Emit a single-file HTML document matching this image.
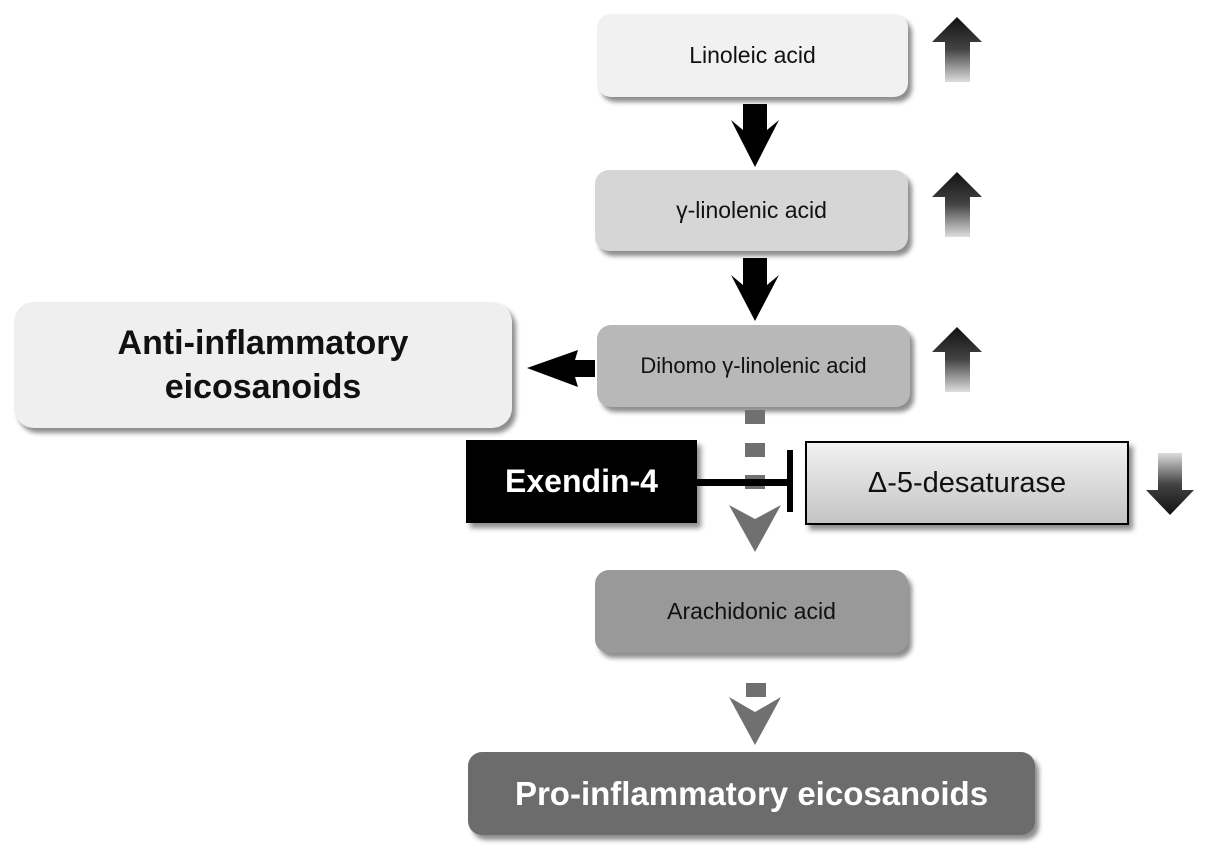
<!DOCTYPE html>
<html><head><meta charset="utf-8"><style>
body{margin:0;width:1205px;height:853px;background:#fff;position:relative;overflow:hidden;font-family:"Liberation Sans",sans-serif}
.b{position:absolute;display:flex;align-items:center;justify-content:center;text-align:center;border-radius:14px;box-shadow:4px 5px 5px rgba(0,0,0,.45);color:#111}
svg{position:absolute;left:0;top:0}
</style></head><body>
<div class="b" style="left:597px;top:14px;width:311px;height:83px;background:#f1f1f1;font-size:23px">Linoleic acid</div>
<div class="b" style="left:595px;top:170px;width:313px;height:81px;background:#d6d6d6;font-size:23px">γ-linolenic acid</div>
<div class="b" style="left:597px;top:325px;width:313px;height:82px;background:#b8b8b8;font-size:22px">Dihomo γ-linolenic acid</div>
<div class="b" style="left:14px;top:302px;width:498px;height:126px;background:#efefef;font-size:34px;font-weight:bold;line-height:44px;border-radius:20px">Anti-inflammatory<br>eicosanoids</div>
<div class="b" style="left:466px;top:440px;width:231px;height:83px;background:#000;color:#fff;font-size:32px;font-weight:bold;border-radius:0">Exendin-4</div>
<div class="b" style="left:805px;top:441px;width:320px;height:80px;background:linear-gradient(#f2f2f2,#c4c4c4);border:2px solid #000;font-size:29px;border-radius:0">Δ-5-desaturase</div>
<div class="b" style="left:595px;top:570px;width:313px;height:83px;background:#999;font-size:23px">Arachidonic acid</div>
<div class="b" style="left:468px;top:752px;width:567px;height:83px;background:#6c6c6c;color:#fff;font-size:33px;font-weight:bold">Pro-inflammatory eicosanoids</div>
<svg width="1205" height="853">
<defs><linearGradient id="up" x1="0" y1="0" x2="0" y2="1"><stop offset="0" stop-color="#111"/><stop offset=".5" stop-color="#444"/><stop offset="1" stop-color="#ddd"/></linearGradient>
<linearGradient id="dn" x1="0" y1="1" x2="0" y2="0"><stop offset="0" stop-color="#111"/><stop offset=".5" stop-color="#444"/><stop offset="1" stop-color="#ddd"/></linearGradient></defs>
<g fill="url(#up)"><polygon points="957,17 982,42 970,42 970,82 945,82 945,42 932,42"/>
<polygon points="957,172 982,197 970,197 970,237 945,237 945,197 932,197"/>
<polygon points="957,327 982,352 970,352 970,392 945,392 945,352 932,352"/></g>
<polygon fill="url(#dn)" points="1170,515 1194,490 1182,490 1182,453 1158,453 1158,490 1146,490"/>
<g fill="#000"><polygon points="743,104 767,104 767,130 779,120 755,167 731,120 743,130"/>
<polygon points="743,258 767,258 767,285 779,275 755,321 731,275 743,285"/>
<polygon points="595,360 575,360 578,350 527,368 578,387 575,377 595,377"/></g>
<g fill="#707070"><rect x="745" y="410" width="20" height="14"/><rect x="745" y="443" width="20" height="14"/><rect x="745" y="475" width="20" height="14"/>
<polygon points="729,505 755,519 781,505 755,552"/>
<rect x="746" y="683" width="20" height="14"/><polygon points="729,697 755,712 781,697 755,745"/></g>
<rect x="697" y="479" width="93" height="7" fill="#000"/>
<rect x="787" y="450" width="6" height="62" fill="#000"/>
</svg>
</body></html>
